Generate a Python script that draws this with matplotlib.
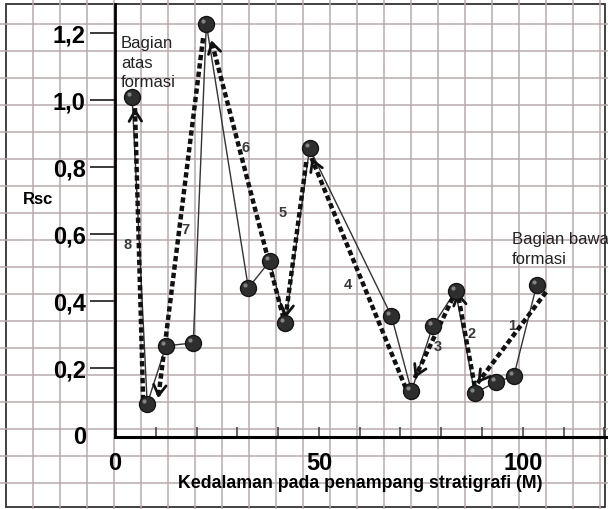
import numpy as np
import matplotlib
matplotlib.use('Agg')
import matplotlib.pyplot as plt
from matplotlib.patches import Rectangle
from matplotlib.transforms import offset_copy

plt.rcParams['font.family'] = ['Liberation Sans', 'DejaVu Sans']

# sample points (depth in M, Rsc)
depth = [4.2, 7.9, 12.5, 19.2, 22.4, 32.7, 38.0, 41.8, 47.7,
         67.8, 72.7, 77.9, 83.5, 88.2, 93.4, 97.8, 103.4]
rsc = [1.01, 0.093, 0.266, 0.275, 1.227, 0.439, 0.52, 0.334, 0.856,
       0.355, 0.131, 0.325, 0.43, 0.125, 0.158, 0.176, 0.448]

# trend arrows 1..8: tail -> head
arrow_names = ['1', '2', '3', '4', '5', '6', '7', '8']
arrow_tail = [(105.7, 0.427), (88.2, 0.146), (82.8, 0.409), (71.3, 0.140),
              (46.9, 0.815), (41.3, 0.349), (21.6, 1.185), (6.9, 0.104)]
arrow_head = [(88.9, 0.155), (84.0, 0.427), (73.5, 0.170), (48.2, 0.827),
              (41.8, 0.349), (23.6, 1.179), (10.6, 0.110), (4.9, 0.976)]
arrow_label = [(97.3, 0.325), (87.5, 0.301), (79.1, 0.263), (57.0, 0.448),
               (41.0, 0.663), (31.9, 0.857), (17.2, 0.612), (3.2, 0.567)]

yticks = [0, 0.2, 0.4, 0.6, 0.8, 1.0, 1.2]
ytick_labels = ['0', '0,2', '0,4', '0,6', '0,8', '1,0', '1,2']
xticks = [0, 50, 100]
xminor = [10, 20, 30, 40, 60, 70, 80, 90, 110, 120]

W, H = 608, 509
fig = plt.figure(figsize=(W / 100, H / 100), dpi=100)

# graph-paper background
bg = fig.add_axes([0, 0, 1, 1], zorder=0)
bg.set_xlim(0, W)
bg.set_ylim(H, 0)
bg.axis('off')
for gx in np.arange(33, 606, 27):
    bg.axvline(gx, color='#b9aaa9', lw=1.1)
for gy in np.arange(24, 506, 27):
    bg.axhline(gy, color='#b9aaa9', lw=1.1)
bg.add_patch(Rectangle((6, 4), 599, 503, fill=False, ec='#333333', lw=1.3))

ax = fig.add_axes([115 / W, 72 / H, 491 / W, 433 / H], zorder=1)
ax.set_facecolor('none')
ax.set_xlim(0, 120.4)
ax.set_ylim(-0.006, 1.287)

for s in ['top', 'right']:
    ax.spines[s].set_visible(False)
ax.spines['left'].set_linewidth(2.0)
ax.spines['bottom'].set_linewidth(2.2)

ax.set_yticks(yticks)
ax.set_yticklabels(ytick_labels, fontsize=17, fontweight='bold')
ax.tick_params(axis='y', direction='out', length=18, width=1.4,
               color='#3a3a3a', pad=3)
ax.yaxis.get_major_ticks()[0].tick1line.set_visible(False)

ax.set_xticks(xticks)
ax.set_xticks(xminor, minor=True)
ax.set_xticklabels([str(v) for v in xticks], fontsize=17, fontweight='bold')
ax.tick_params(axis='x', which='both', direction='in', length=7, width=1.1,
               color='#3a3a3a', pad=11)

# thin line through samples
ax.plot(depth, rsc, '-', color='#333333', lw=1.0, zorder=2)

# dashed trend arrows
for name, (tx, ty), (hx, hy), (lx, ly) in zip(arrow_names, arrow_tail,
                                               arrow_head, arrow_label):
    ax.plot([tx, hx], [ty, hy], color='#111111', lw=3.2,
            dashes=(1.2, 0.7), dash_capstyle='butt', zorder=3)
    ax.annotate('', xy=(hx, hy),
                xytext=(hx + (tx - hx) * 0.02, hy + (ty - hy) * 0.02),
                arrowprops=dict(arrowstyle='->,head_length=0.75,head_width=0.45',
                                lw=2.0, color='#111111', shrinkA=0, shrinkB=0),
                zorder=3)
    ax.text(lx, ly, name, fontsize=10.5, fontweight='bold', color='#3a3a3a',
            ha='center', va='center')

# sample balls with small highlight
ax.plot(depth, rsc, 'o', ms=11.5, mfc='#2e2e2e', mec='#151515', mew=1.0,
        zorder=4, clip_on=False)
hl = offset_copy(ax.transData, fig=fig, x=-3, y=3, units='dots')
ax.plot(depth, rsc, 'o', ms=3, mfc='#9a9a9a', mec='none', transform=hl,
        zorder=5, alpha=0.8)

ax.text(1.5, 1.19, 'Bagian\natas\nformasi', fontsize=12, color='#222222',
        ha='left', va='top', linespacing=1.35)
ax.text(97.3, 0.605, 'Bagian bawah\nformasi', fontsize=12, color='#222222',
        ha='left', va='top', linespacing=1.35)

fig.text(38 / W, 1 - 200 / H, 'Rsc', fontsize=12, fontweight='bold',
         ha='center', va='center')
fig.text(360 / W, 1 - 483 / H, 'Kedalaman pada penampang stratigrafi (M)',
         fontsize=12.8, fontweight='bold', ha='center', va='center')

fig.savefig('out.png', dpi=100)
